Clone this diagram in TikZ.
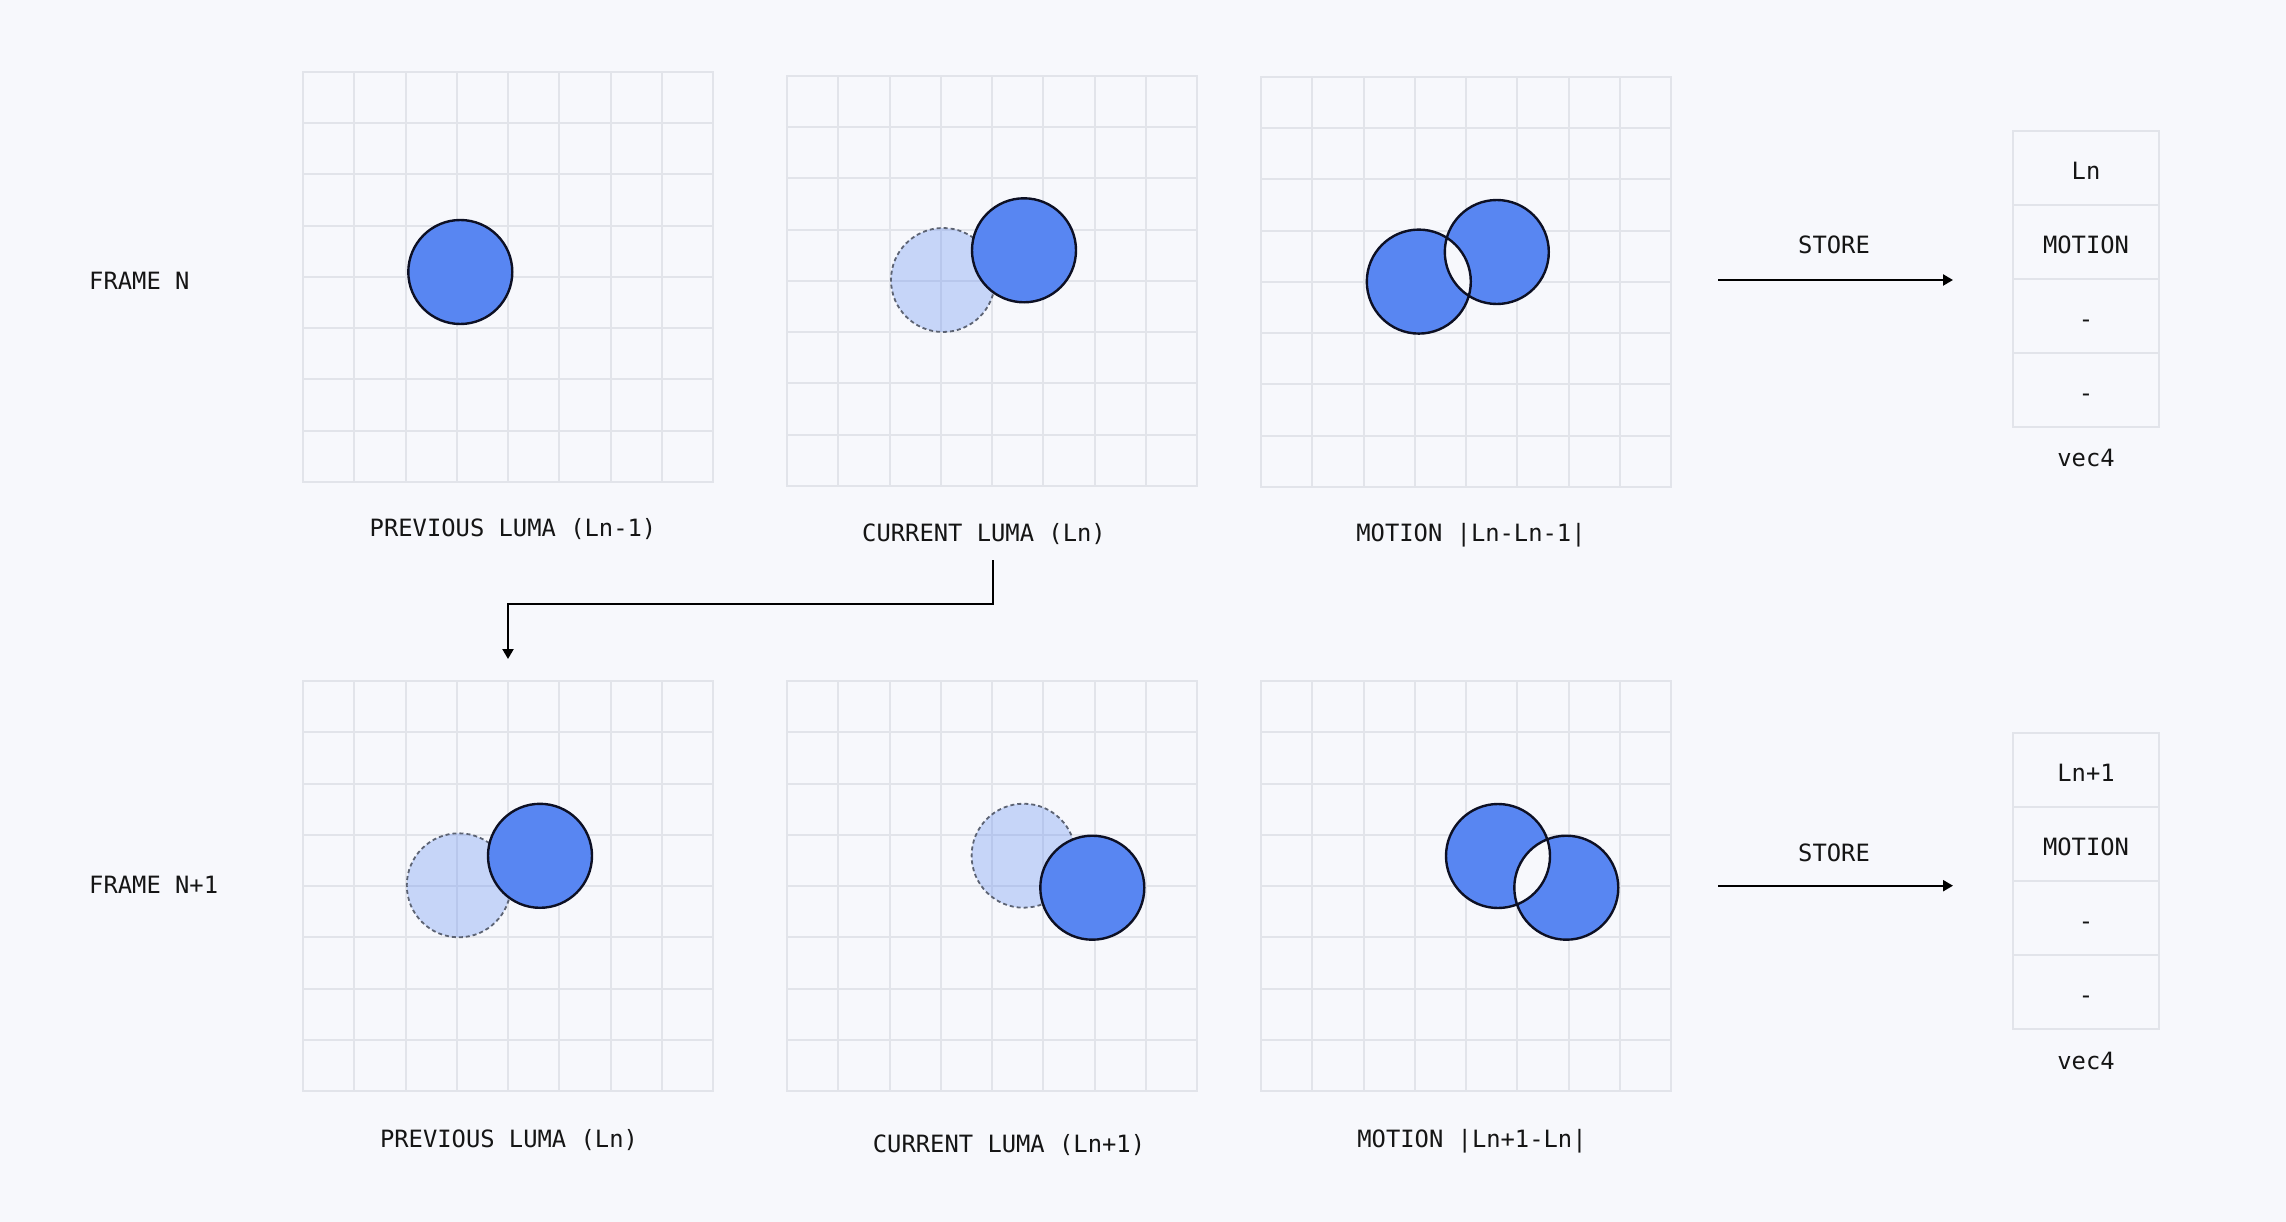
\documentclass[tikz,border=0pt]{standalone}
\usepackage{fontspec}
\setmonofont{DejaVu Sans Mono}
\usetikzlibrary{arrows.meta}
\definecolor{bgc}{HTML}{F7F8FC}
\definecolor{gridc}{HTML}{E2E4EA}
\definecolor{ballc}{HTML}{5886F2}
\definecolor{inkc}{HTML}{0D1024}
\definecolor{dashc}{HTML}{5C6373}
\definecolor{txtc}{HTML}{151515}
\newcommand\lumagrid[3]{%
  \foreach \k in {1,...,7}{%
    \draw[gridline] (#2+\k*51.25,#3) -- (#2+\k*51.25,#3+410);
    \draw[gridline] (#2,#3+\k*51.25) -- (#2+410,#3+\k*51.25);
  }%
  \node[gridframe] (#1) at (#2+205,#3+205) {};
}
\newcommand\motionpair[2]{%
  \fill[ballc] (#1) circle[radius=52] (#2) circle[radius=52];
  \begin{scope}
    \clip (#1) circle[radius=52];
    \fill[bgc] (#2) circle[radius=52];
  \end{scope}
  \draw[inkc, line width=2.4pt] (#1) circle[radius=52] (#2) circle[radius=52];
}
\begin{document}
\begin{tikzpicture}[x=1pt,y=-1pt,
  gridline/.style={draw=gridc, line width=2pt},
  gridframe/.style={draw=gridc, line width=2pt, minimum width=410pt, minimum height=410pt, inner sep=0pt},
  ball/.style={circle, fill=ballc, draw=inkc, line width=2.4pt, minimum size=104pt, inner sep=0pt},
  ghost/.style={circle, fill=ballc, fill opacity=0.3, draw=dashc, dash pattern=on 4pt off 3pt, line width=1.8pt, minimum size=104pt, inner sep=0pt},
  lbl/.style={font=\ttfamily\fontsize{23.8}{28}\selectfont, text=txtc, inner sep=0pt, text height=17.3pt, text depth=0pt},
  cell/.style={lbl, text height=24.5pt, draw=gridc, line width=2pt, minimum width=146.6pt, minimum height=74pt},
  flow/.style={draw=black, line width=2.2pt, -{Triangle[length=10pt,width=11pt]}}
]
\fill[bgc] (0,0) rectangle (2286,1222);
\useasboundingbox (0,0) rectangle (2286,1222);

% ---------- grids ----------
\lumagrid{gT1}{303}{72}
\lumagrid{gT2}{787}{76}
\lumagrid{gT3}{1261}{77}
\lumagrid{gB1}{303}{681}
\lumagrid{gB2}{787}{681}
\lumagrid{gB3}{1261}{681}

% ---------- frame N ----------
\node[ball] (t1s) at (460.3,272) {};
\node[ghost] (t2g) at (943,280) {};
\node[ball] (t2s) at (1024,250.3) {};
\coordinate (t3a) at (1418.8,281.6);
\coordinate (t3b) at (1496.8,252);
\motionpair{t3a}{t3b}

% ---------- frame N+1 ----------
\node[ghost] (b1g) at (458.8,885.3) {};
\node[ball] (b1s) at (540,855.8) {};
\node[ghost] (b2g) at (1023.6,855.7) {};
\node[ball] (b2s) at (1092.3,887.7) {};
\coordinate (b3a) at (1498,856);
\coordinate (b3b) at (1566.3,887.7);
\motionpair{b3a}{b3b}

% ---------- labels ----------
\node[lbl, anchor=west] (fN) at (89,281) {FRAME N};
\node[lbl, anchor=west] (fN1) at (89,885) {FRAME N+1};

\node[lbl] (lT1) at (513,527.5) {PREVIOUS LUMA (Ln-1)};
\node[lbl] (lT2) at (984,533) {CURRENT LUMA (Ln)};
\node[lbl] (lT3) at (1471,533) {MOTION |Ln-Ln-1|};
\node[lbl] (lB1) at (509,1139) {PREVIOUS LUMA (Ln)};
\node[lbl] (lB2) at (1009,1144) {CURRENT LUMA (Ln+1)};
\node[lbl] (lB3) at (1472,1139) {MOTION |Ln+1-Ln|};

% ---------- store arrows ----------
\coordinate (s1a) at (1718,280);
\coordinate (s1b) at (1953,280);
\draw[flow] (s1a) -- (s1b);
\node[lbl] (st1) at (1834,245) {STORE};
\coordinate (s2a) at (1718,885.7);
\coordinate (s2b) at (1953,885.7);
\draw[flow] (s2a) -- (s2b);
\node[lbl] (st2) at (1834,852.7) {STORE};

% ---------- vec4 boxes ----------
\node[cell] (v1r1) at (2086,167.7) {Ln};
\node[cell] (v1r2) at (2086,241.7) {MOTION};
\node[cell] (v1r3) at (2086,315.7) {-};
\node[cell] (v1r4) at (2086,389.7) {-};
\node[lbl] (v1) at (2086,457.5) {vec4};

\node[cell] (v2r1) at (2086,769.7) {Ln+1};
\node[cell] (v2r2) at (2086,843.7) {MOTION};
\node[cell] (v2r3) at (2086,917.7) {-};
\node[cell] (v2r4) at (2086,991.7) {-};
\node[lbl] (v2) at (2086,1061) {vec4};

% ---------- elbow connector ----------
\coordinate (eS) at (992.6,560);
\coordinate (eM) at (750,604);
\coordinate (eE) at (508,659);
\draw[flow] (eS) |- (eM) -| (eE);
\end{tikzpicture}
\end{document}
